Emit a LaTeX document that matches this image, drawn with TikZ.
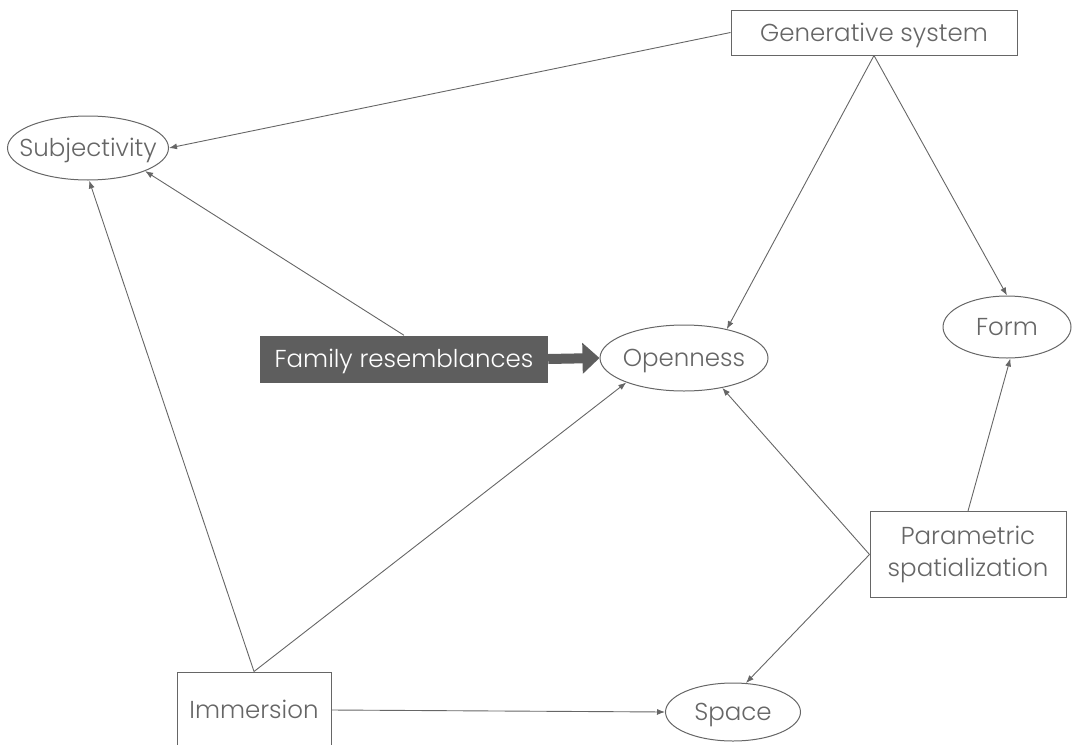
\documentclass[tikz,border=0pt]{standalone}
\usepackage{fontspec}
\setmainfont{Poppins}[UprightFont=* Light]
\usetikzlibrary{arrows.meta,shapes.geometric}
\definecolor{ink}{HTML}{666666}
\definecolor{boxfill}{HTML}{5E5E5E}
% label whose width does not enlarge its ellipse
\newcommand{\elabel}[1]{\makebox[0pt]{#1}}
\begin{document}
\begin{tikzpicture}[x=1pt,y=-1pt,
  every node/.style={font=\fontsize{24.5}{28}\selectfont, text=ink, inner sep=0pt, align=center},
  capcentre/.style={text height=17pt, text depth=0pt},
  rectbox/.style={draw=ink, line width=1pt, rectangle},
  ellbox/.style={draw=ink, line width=1pt, ellipse, capcentre},
  link/.style={draw=ink, line width=0.9pt, -{Latex[length=8pt,width=6pt]}},
]
\useasboundingbox (0,0) rectangle (1073,744);
\begin{scope}
\clip (0,0) rectangle (1073,744);

% concepts (ellipses)
\node[ellbox, minimum width=161pt, minimum height=64pt] (subj) at (88,148) {\elabel{Subjectivity}};
\node[ellbox, minimum width=168pt, minimum height=66pt] (open) at (684,358) {\elabel{Openness}};
\node[ellbox, minimum width=128pt, minimum height=62pt] (form) at (1007,327) {\elabel{Form}};
\node[ellbox, minimum width=135pt, minimum height=58pt] (space) at (733,712) {\elabel{Space}};

% sources (rectangles)
\node[rectbox, capcentre, minimum width=286pt, minimum height=45pt] (gen) at (874,32.5) {Generative system};
\node[rectbox, minimum width=196pt, minimum height=86pt] (para) at (968,554.5) {\raisebox{-5pt}{\shortstack{Parametric\\[11pt]spatialization}}};
\node[rectbox, capcentre, minimum width=154pt, minimum height=76pt] (imm) at (254,710) {Immersion};
\node[capcentre, fill=boxfill, text=white, minimum width=288pt, minimum height=47pt] (fam) at (404,359) {Family resemblances};

% links
\draw[link] (gen.west) -- (subj.east);
\draw[link] (gen.south) -- (open.34);
\draw[link] (gen.south) -- (form.north);
\draw[link] (fam.north) -- (subj.-22);
\draw[link] (imm.north) -- (subj.-88);
\draw[link] (imm.north) -- (open.203);
\draw[link] (imm.east) -- (space.west);
\draw[link] (para.west) -- (open.-38);
\draw[link] (para.west) -- (space.66);
\draw[link] (para.north) -- (form.-84);

% emphasised link
\draw[boxfill, line width=10pt, -{Triangle[length=17pt,width=30pt]}] (fam.east) -- (open.west);
\end{scope}
\end{tikzpicture}
\end{document}
